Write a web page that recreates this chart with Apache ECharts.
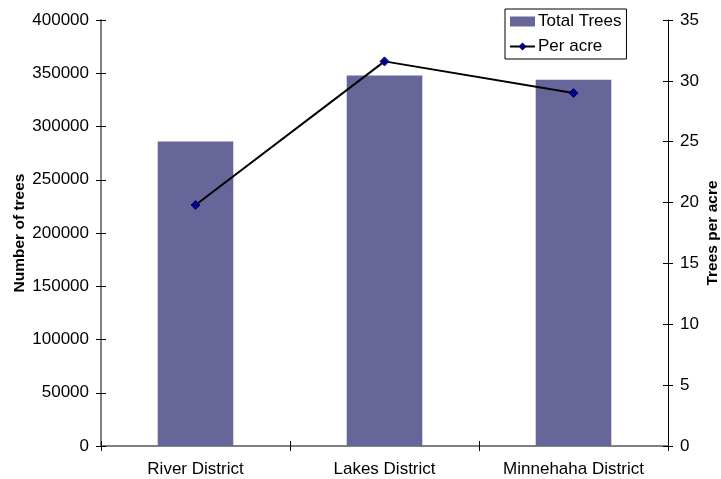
<!DOCTYPE html>
<html><head><meta charset="utf-8">
<script src="https://cdn.jsdelivr.net/npm/echarts@6/dist/echarts.min.js"></script>
<style>html,body{margin:0;padding:0;background:#fff}#c{width:721px;height:479px}</style>
</head><body><div id="c"></div>
<script>
const categories = ['River District', 'Lakes District', 'Minnehaha District'];
const totalTrees = [286000, 348000, 344000];
const perAcre = [19.8, 31.6, 29.0];
const leftTicks = {min: 0, max: 400000, interval: 50000};
const rightTicks = {min: 0, max: 35, interval: 5};

const FONT = 'Liberation Sans, Arial, sans-serif';
const FS = 17;
const chart = echarts.init(document.getElementById('c'), null, {renderer: 'canvas'});
const tickOut = {show: true, inside: false, length: 5, lineStyle: {color: '#000', width: 1}};
const tickIn = {show: true, inside: true, length: 5, lineStyle: {color: '#000', width: 1}};
const plain = v => String(v);
chart.setOption({
  animation: false,
  backgroundColor: '#fff',
  textStyle: {fontFamily: FONT, color: '#000'},
  grid: {left: 101, right: 53, top: 20, bottom: 33, containLabel: false, outerBoundsMode: 'none'},
  legend: {
    orient: 'vertical', left: 505, top: 9,
    padding: [4, 5, 4, 4], itemGap: 8, itemWidth: 25, itemHeight: 10,
    borderColor: '#000', borderWidth: 1,
    textStyle: {fontFamily: FONT, fontSize: FS, color: '#000', padding: [0, 0, 0, -2]},
    data: [{name: 'Total Trees', icon: 'rect'}, {name: 'Per acre'}]
  },
  xAxis: [
    {type: 'category', data: categories, position: 'bottom',
     axisLine: {show: true, lineStyle: {color: '#808080', width: 2}},
     axisTick: tickOut,
     axisLabel: {fontFamily: FONT, fontSize: FS, color: '#000', margin: 15, interval: 0, hideOverlap: false},
     splitLine: {show: false}},
    {type: 'category', data: categories, position: 'bottom', gridIndex: 0,
     axisLine: {show: false}, axisTick: tickIn, axisLabel: {show: false}, splitLine: {show: false}}
  ],
  yAxis: [
    {type: 'value', position: 'left', min: leftTicks.min, max: leftTicks.max, interval: leftTicks.interval,
     name: 'Number of trees', nameLocation: 'middle', nameGap: 73, nameRotate: 90, nameMoveOverlap: false,
     nameTextStyle: {fontFamily: FONT, fontSize: 15.5, fontWeight: 'bold', color: '#000'},
     axisLine: {show: true, lineStyle: {color: '#808080', width: 2}},
     axisTick: tickOut,
     axisLabel: {fontFamily: FONT, fontSize: FS, color: '#000', margin: 12, formatter: plain},
     splitLine: {show: false}},
    {type: 'value', position: 'right', min: rightTicks.min, max: rightTicks.max, interval: rightTicks.interval,
     name: 'Trees per acre', nameLocation: 'middle', nameGap: 37, nameRotate: 90, nameMoveOverlap: false,
     nameTextStyle: {fontFamily: FONT, fontSize: 15.5, fontWeight: 'bold', color: '#000'},
     axisLine: {show: true, lineStyle: {color: '#000', width: 1}},
     axisTick: tickOut,
     axisLabel: {fontFamily: FONT, fontSize: FS, color: '#000', margin: 12, formatter: plain},
     splitLine: {show: false}},
    {type: 'value', position: 'left', min: leftTicks.min, max: leftTicks.max, interval: leftTicks.interval,
     axisLine: {show: false}, axisTick: tickIn, axisLabel: {show: false}, splitLine: {show: false}},
    {type: 'value', position: 'right', min: rightTicks.min, max: rightTicks.max, interval: rightTicks.interval,
     axisLine: {show: false}, axisTick: tickIn, axisLabel: {show: false}, splitLine: {show: false}}
  ],
  series: [
    {name: 'Total Trees', type: 'bar', data: totalTrees, xAxisIndex: 0, yAxisIndex: 0,
     barWidth: '40%', itemStyle: {color: '#666699'}},
    {name: 'Per acre', type: 'line', data: perAcre, xAxisIndex: 0, yAxisIndex: 1,
     symbol: 'diamond', symbolSize: 9,
     lineStyle: {color: '#000', width: 2},
     itemStyle: {color: '#000080', borderColor: '#000080'},
     z: 5}
  ]
});
</script></body></html>
